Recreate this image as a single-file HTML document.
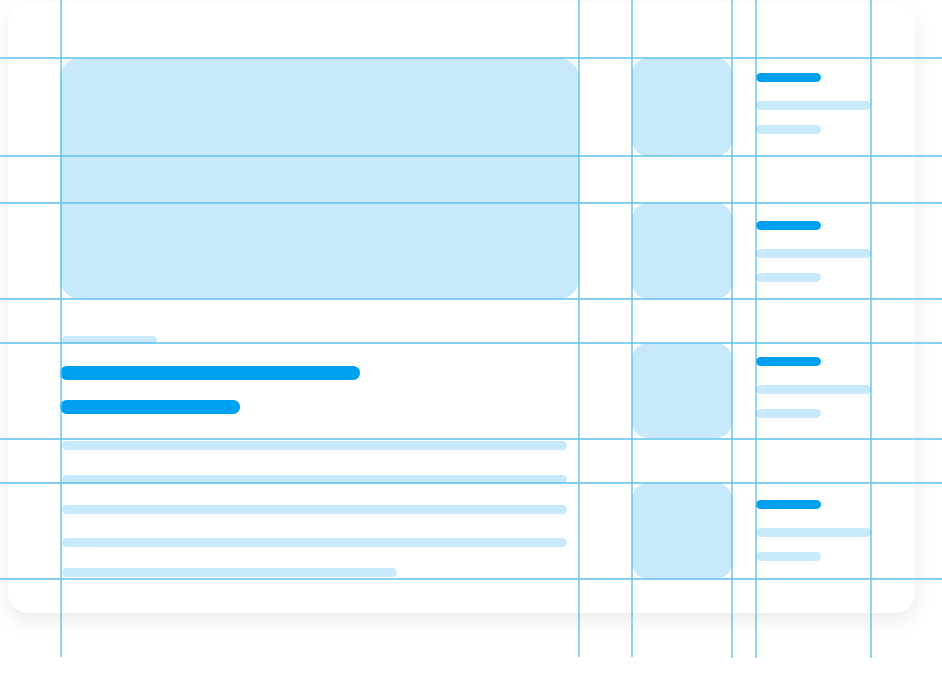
<!DOCTYPE html>
<html><head><meta charset="utf-8"><style>
html,body{margin:0;padding:0;background:#fff;width:942px;height:682px;overflow:hidden}
svg{display:block}
</style></head><body>
<svg width="942" height="682" viewBox="0 0 942 682">
<defs>
<filter id="sh" x="-10%" y="-10%" width="120%" height="130%">
<feDropShadow dx="0" dy="8" stdDeviation="9" flood-color="#000" flood-opacity="0.08"/>
</filter>
</defs>
<rect x="8" y="4" width="907" height="609" rx="20" fill="#fff" filter="url(#sh)"/>
<g fill="#c8e8fc">
<rect x="60" y="58" width="519" height="241" rx="20"/>
<rect x="632" y="58" width="100" height="98" rx="16"/>
<rect x="632" y="203" width="100" height="96" rx="16"/>
<rect x="632" y="343" width="100" height="95" rx="16"/>
<rect x="632" y="483" width="100" height="96" rx="16"/>
<rect x="62" y="336" width="95" height="8" rx="4"/>
<rect x="62" y="441" width="505" height="9" rx="4.5"/>
<rect x="62" y="475" width="505" height="9" rx="4.5"/>
<rect x="62" y="505" width="505" height="9" rx="4.5"/>
<rect x="62" y="538" width="505" height="9" rx="4.5"/>
<rect x="62" y="568" width="335" height="9" rx="4.5"/>
<rect x="756" y="101" width="115" height="9" rx="4.5"/>
<rect x="756" y="125" width="65" height="9" rx="4.5"/>
<rect x="756" y="249" width="115" height="9" rx="4.5"/>
<rect x="756" y="273" width="65" height="9" rx="4.5"/>
<rect x="756" y="385" width="115" height="9" rx="4.5"/>
<rect x="756" y="409" width="65" height="9" rx="4.5"/>
<rect x="756" y="528" width="115" height="9" rx="4.5"/>
<rect x="756" y="552" width="65" height="9" rx="4.5"/>
</g>
<g fill="#00a0f0">
<rect x="60" y="366" width="300" height="14" rx="7"/>
<rect x="60" y="400" width="180" height="14" rx="7"/>
<rect x="756" y="73" width="65" height="9" rx="4.5"/>
<rect x="756" y="221" width="65" height="9" rx="4.5"/>
<rect x="756" y="357" width="65" height="9" rx="4.5"/>
<rect x="756" y="500" width="65" height="9" rx="4.5"/>
</g>
<g stroke="#5fc1ee" stroke-width="1.4">
<line x1="0" y1="58" x2="942" y2="58"/>
<line x1="0" y1="156" x2="942" y2="156"/>
<line x1="0" y1="203" x2="942" y2="203"/>
<line x1="0" y1="299" x2="942" y2="299"/>
<line x1="0" y1="343" x2="942" y2="343"/>
<line x1="0" y1="439" x2="942" y2="439"/>
<line x1="0" y1="483" x2="942" y2="483"/>
<line x1="0" y1="579" x2="942" y2="579"/>
<line x1="61" y1="0" x2="61" y2="657"/>
<line x1="579" y1="0" x2="579" y2="657"/>
<line x1="632" y1="0" x2="632" y2="657"/>
<line x1="732" y1="0" x2="732" y2="658"/>
<line x1="756" y1="0" x2="756" y2="658"/>
<line x1="871" y1="0" x2="871" y2="658"/>
</g>
</svg>
</body></html>
